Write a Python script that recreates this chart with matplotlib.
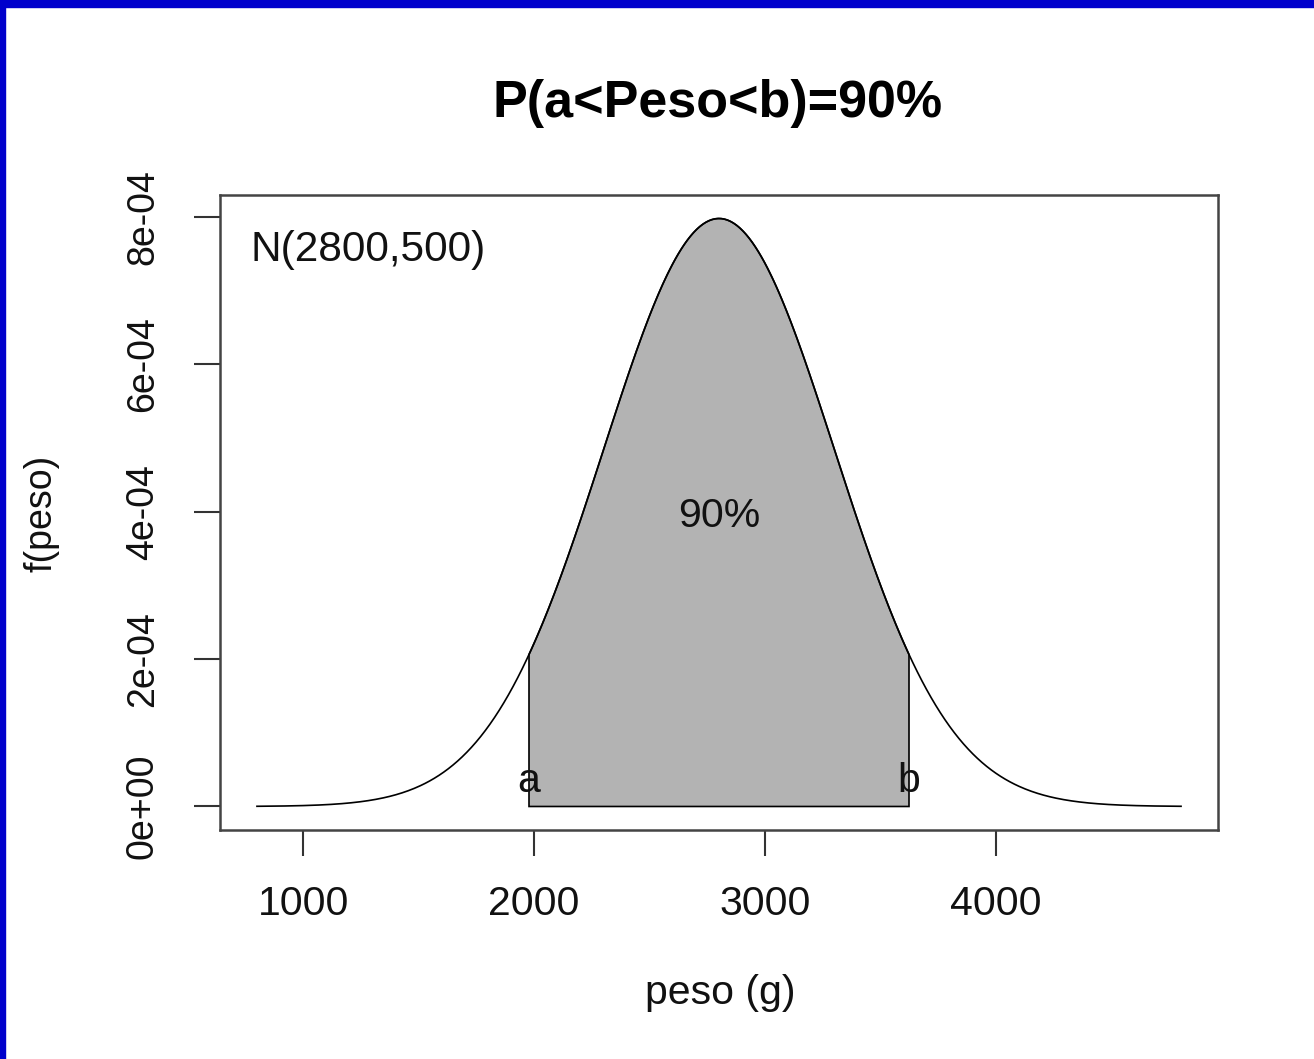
import numpy as np
import matplotlib
matplotlib.use("Agg")
import matplotlib.pyplot as plt
from matplotlib.patches import Rectangle

plt.rcParams['font.family'] = ['Liberation Sans', 'DejaVu Sans']

# ---- data ----
mu = 2800
sigma = 500
prob_label = "90%"
z90 = 1.6449  # two-sided 90% normal quantile
x_ticks = [1000, 2000, 3000, 4000]
x_tick_labels = ["1000", "2000", "3000", "4000"]
y_ticks = [0.0, 2e-4, 4e-4, 6e-4, 8e-4]
y_tick_labels = ["0e+00", "2e-04", "4e-04", "6e-04", "8e-04"]
title = "P(a<Peso<b)=90%"
dist_label = "N(2800,500)"

a = mu - z90 * sigma
b = mu + z90 * sigma
x = np.linspace(mu - 4 * sigma, mu + 4 * sigma, 600)
dens = np.exp(-0.5 * ((x - mu) / sigma) ** 2) / (sigma * np.sqrt(2 * np.pi))
xs = np.linspace(a, b, 400)
ds = np.exp(-0.5 * ((xs - mu) / sigma) ** 2) / (sigma * np.sqrt(2 * np.pi))

FS_H = 29.5   # horizontal text
FS_V = 27     # rotated text
W, H = 1314, 1059
fig = plt.figure(figsize=(W / 100, H / 100), dpi=100)
fig.patch.set_facecolor('white')

ax = fig.add_axes([220 / W, 1 - 830 / H, (1218 - 220) / W, (830 - 195) / H])

ax.plot(x, dens, color='black', lw=1.2)
px = np.concatenate([[a], xs, [b]])
py = np.concatenate([[0], ds, [0]])
ax.fill(px, py, facecolor='#b3b3b3', edgecolor='black', lw=1.2)

xr = x.max() - x.min()
ax.set_xlim(x.min() - 0.04 * xr, x.max() + 0.04 * xr)
yr = dens.max()
ax.set_ylim(-0.04 * yr, dens.max() + 0.04 * yr)

ax.set_xticks(x_ticks)
ax.set_xticklabels(x_tick_labels, fontsize=FS_H)
ax.set_yticks(y_ticks)
ax.set_yticklabels(y_tick_labels, rotation=90, va='center', fontsize=FS_V)
ax.tick_params(axis='both', length=18.5, width=1.5, color='#333333', labelcolor='#111111')
ax.tick_params(axis='x', pad=21)
ax.tick_params(axis='y', pad=24)
for s in ax.spines.values():
    s.set_color('#444444')
    s.set_linewidth(1.8)

ax.text(mu, 4e-4, prob_label, ha='center', va='center_baseline', fontsize=FS_H, color='#111111')
ax.text(a, 4e-5, "a", ha='center', va='center_baseline', fontsize=FS_H, color='#111111')
ax.text(b, 4e-5, "b", ha='center', va='center_baseline', fontsize=FS_H, color='#111111')
ax.text(0.031, 0.913, dist_label, transform=ax.transAxes, ha='left', va='center', fontsize=FS_H + 1, color='#111111')

fig.text(718 / W, 1 - 104 / H, title, ha='center', va='center', fontsize=37.5, fontweight='bold', color='black')
fig.text(720 / W, 1 - 993 / H, "peso (g)", ha='center', va='center', fontsize=FS_H, color='#111111')
fig.text(42 / W, 1 - 513 / H, "f(peso)", ha='center', va='center', rotation=90, fontsize=FS_V, color='#111111')

# blue frame (top and left edges)
fig.patches.append(Rectangle((0, 1 - 7 / H), 1, 7 / H, transform=fig.transFigure, color='#0000cc', zorder=10))
fig.patches.append(Rectangle((0, 0), 5 / W, 1, transform=fig.transFigure, color='#0000cc', zorder=10))

fig.savefig("out.png", dpi=100)
